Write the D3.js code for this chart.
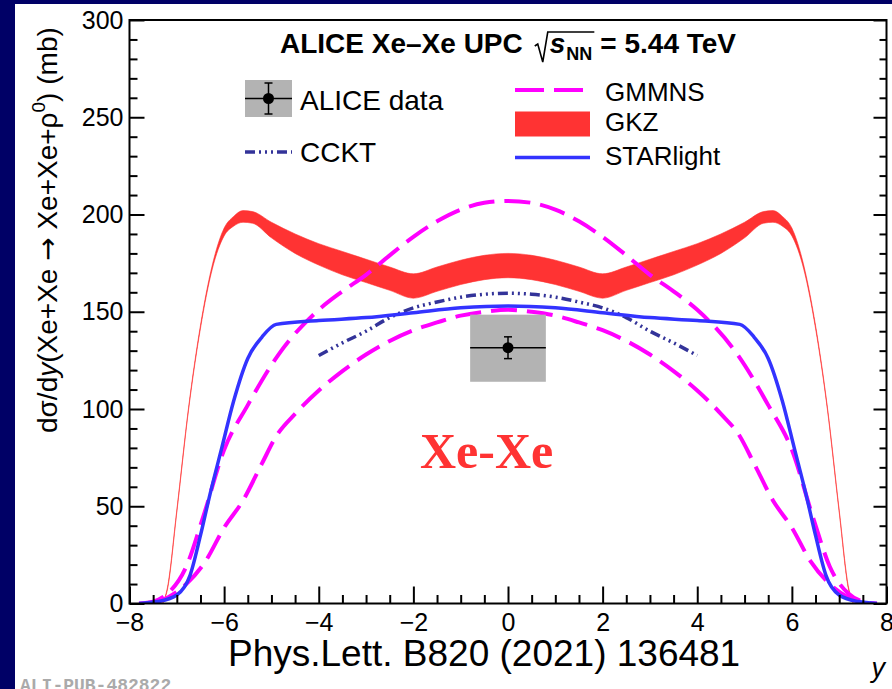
<!DOCTYPE html>
<html><head><meta charset="utf-8">
<script src="https://cdn.jsdelivr.net/npm/d3@7"></script>
<style>body{margin:0;background:#000066;} svg{display:block;}</style>
</head><body><svg id="c" width="892" height="689"></svg>
<script>
// ---------------- data ----------------
const gkzRap   = [-7.3,-7.2,-7.0,-6.75,-6.5,-6.25,-6.0,-5.8,-5.6,-5.4,-5.0,-4.5,-4.0,-3.5,-3.0,-2.5,-2.0,-1.5,-1.0,-0.5,0,0.5,1.0,1.5,2.0,2.5,3.0,3.5,4.0,4.5,5.0,5.4,5.6,5.8,6.0,6.25,6.5,6.75,7.0,7.2,7.3];
const gkzHigh  = [0,8,48,101,143,174,193,199,202,201.5,196,190,185,181,177,173,169.5,173,176.5,179,180,179,176.5,173,169.5,173,177,181,185,190,196,201.5,202,199,193,174,143,101,48,8,0];
const gkzLow   = [0,7,47,100,141.5,172,189,194,196,195.5,188,180,174,169,165,161,157,160.5,164,166.5,167.5,166.5,164,160.5,157,161,165,169,174,180,188,195.5,196,194,189,172,141.5,100,47,7,0];

const gmUpRap  = [-7.8,-7.5,-7.2,-6.8,-6.45,-6.0,-5.5,-4.85,-4.0,-3.5,-3.0,-2.5,-2.0,-1.5,-1.0,-0.5,0,0.5,1.0,1.5,2.0,2.5,3.0,3.5,4.0,4.85,5.5,6.0,6.45,6.8,7.2,7.5,7.8];
const gmUpVal  = [0,1,5,19,44,79,102,128,151,160.5,169,179,188.5,196.5,202.5,206,207,206,202.5,196.5,188.5,179,169,160.5,151,128,102,79,44,19,5,1,0];
const gmLoRap  = [-7.5,-7.2,-6.8,-6.4,-6.0,-5.6,-5.2,-4.9,-4.5,-4.0,-3.5,-3.0,-2.5,-2.0,-1.5,-1.0,-0.5,0,0.5,1.0,1.5,2.0,2.5,3.0,3.5,4.0,4.5,4.9,5.2,5.6,6.0,6.4,6.8,7.2,7.5];
const gmLoVal  = [0,3,10,21.5,39,53,72,86,97.5,109.5,119.5,128,135,140.5,144.5,148,150,151,150,148,144.5,140.5,135,128,119.5,109.5,97.5,86,72,53,39,21.5,10,3,0];

const starRap  = [-7.8,-7.4,-7.0,-6.72,-6.5,-6.3,-6.05,-5.8,-5.5,-5.2,-4.9,-4.0,-3.0,-2.0,-1.0,0,1.0,2.0,3.0,4.0,4.9,5.2,5.5,5.8,6.05,6.3,6.5,6.72,7.0,7.4,7.8];
const starVal  = [0,1,4.4,14.5,35,56,80,104,126,137,143.5,145.5,147,149.5,152,153,152,149.5,147,145.5,143.5,137,126,104,80,56,35,14.5,4.4,1,0];

const ccktRap  = [-4,-3.5,-3,-2.5,-2,-1.5,-1,-0.5,0,0.5,1,1.5,2,2.5,3,3.5,4];
const ccktVal  = [127.5,134,140,147,152,155,157.5,159,159.5,159,157.5,155,152,147,140,134,127.5];

const dataRap = [0];
const dataVal = [131.5];
const dataStat = [5.6];
const dataSystLo = [114];
const dataSystHi = [148.5];
const dataRapErr = [0.8];

const xMajorTicks = [-8,-6,-4,-2,0,2,4,6,8];
const yMajorTicks = [0,50,100,150,200,250,300];

// ---------------- drawing ----------------
const F = "'Liberation Sans', Arial, Helvetica, sans-serif";
const svg = d3.select("#c");
svg.append("rect").attr("width",892).attr("height",689).attr("fill","#000066");
svg.append("rect").attr("x",15).attr("y",4).attr("width",877).attr("height",685).attr("fill","#ffffff");

const x = d3.scaleLinear().domain([-8,8]).range([129.5,886.5]);
const y = d3.scaleLinear().domain([0,300]).range([603.5,20]);

svg.append("clipPath").attr("id","pc").append("rect")
  .attr("x",x(-8)).attr("y",y(300)).attr("width",x(8)-x(-8)).attr("height",y(0)-y(300));
const plot = svg.append("g").attr("clip-path","url(#pc)");

const zip = (a,b)=>a.map((v,i)=>[v,b[i]]);
const line = d3.line().x(d=>x(d[0])).y(d=>y(d[1])).curve(d3.curveMonotoneX);

// GKZ band
plot.append("path")
  .datum(gkzRap.map((r,i)=>({r, lo:gkzLow[i], hi:gkzHigh[i]})))
  .attr("d", d3.area().x(d=>x(d.r)).y0(d=>y(d.lo)).y1(d=>y(d.hi)).curve(d3.curveMonotoneX))
  .attr("fill","#ff3333").attr("stroke","#ff3333").attr("stroke-width",0.6);

// GMMNS
[[gmUpRap,gmUpVal],[gmLoRap,gmLoVal]].forEach(([r,v])=>{
  plot.append("path").datum(zip(r,v)).attr("d",line)
    .attr("fill","none").attr("stroke","#ff00ff").attr("stroke-width",4)
    .attr("stroke-dasharray","26,10");
});
// CCKT
plot.append("path").datum(zip(ccktRap,ccktVal)).attr("d",line)
  .attr("fill","none").attr("stroke","#333399").attr("stroke-width",3.5)
  .attr("stroke-dasharray","10,4,2,4,2,4,2,4");
// STARlight
plot.append("path").datum(zip(starRap,starVal)).attr("d",line)
  .attr("fill","none").attr("stroke","#3333ff").attr("stroke-width",3.5);

// ALICE data
dataRap.forEach((r,i)=>{
  plot.append("rect").attr("x",x(r-dataRapErr[i])).attr("y",y(dataSystHi[i]))
    .attr("width",x(r+dataRapErr[i])-x(r-dataRapErr[i])).attr("height",y(dataSystLo[i])-y(dataSystHi[i]))
    .attr("fill","#b3b3b3");
  plot.append("line").attr("x1",x(r-dataRapErr[i])).attr("x2",x(r+dataRapErr[i]))
    .attr("y1",y(dataVal[i])).attr("y2",y(dataVal[i])).attr("stroke","#000").attr("stroke-width",1.5);
  plot.append("line").attr("x1",x(r)).attr("x2",x(r))
    .attr("y1",y(dataVal[i]+dataStat[i])).attr("y2",y(dataVal[i]-dataStat[i])).attr("stroke","#000").attr("stroke-width",1.5);
  [dataVal[i]+dataStat[i], dataVal[i]-dataStat[i]].forEach(v=>{
    plot.append("line").attr("x1",x(r)-4).attr("x2",x(r)+4).attr("y1",y(v)).attr("y2",y(v))
      .attr("stroke","#000").attr("stroke-width",1.5);
  });
  plot.append("circle").attr("cx",x(r)).attr("cy",y(dataVal[i])).attr("r",5.5).attr("fill","#000");
});

// Axes
function styleAxis(g){
  g.select(".domain").remove();
  g.selectAll("line").attr("stroke","#000").attr("stroke-width",2);
  g.selectAll("text").attr("font-family",F).attr("font-size",25).attr("fill","#000");
}
const xMinor = d3.range(-8,8.001,0.5).filter(v=>!xMajorTicks.includes(v));
const yMinor = d3.range(0,300.001,10).filter(v=>!yMajorTicks.includes(v));
svg.append("g").attr("transform",`translate(0,${y(0)})`)
  .call(d3.axisBottom(x).tickValues(xMinor).tickSizeInner(-8.5).tickSizeOuter(0).tickFormat("")).call(styleAxis);
svg.append("g").attr("transform",`translate(0,${y(0)})`)
  .call(d3.axisBottom(x).tickValues(xMajorTicks).tickSizeInner(-17).tickSizeOuter(0).tickPadding(10).tickFormat(d3.format("d"))).call(styleAxis);
svg.append("g").attr("transform",`translate(${x(-8)},0)`)
  .call(d3.axisLeft(y).tickValues(yMinor).tickSizeInner(-8).tickSizeOuter(0).tickFormat("")).call(styleAxis);
svg.append("g").attr("transform",`translate(${x(-8)},0)`)
  .call(d3.axisLeft(y).tickValues(yMajorTicks).tickSizeInner(-15).tickSizeOuter(0).tickPadding(6).tickFormat(d3.format("d"))).call(styleAxis);
svg.append("g").attr("transform",`translate(${x(8)},0)`)
  .call(d3.axisRight(y).tickValues(yMinor).tickSizeInner(-7).tickSizeOuter(0).tickFormat("")).call(styleAxis);
svg.append("g").attr("transform",`translate(${x(8)},0)`)
  .call(d3.axisRight(y).tickValues(yMajorTicks).tickSizeInner(-13).tickSizeOuter(0).tickFormat("")).call(styleAxis);

svg.append("rect").attr("x",x(-8)).attr("y",y(300)).attr("width",x(8)-x(-8)).attr("height",y(0)-y(300))
  .attr("fill","none").attr("stroke","#000").attr("stroke-width",2);

// Axis titles
const yt = svg.append("text").attr("transform","translate(57,433) rotate(-90)")
  .attr("font-family",F).attr("font-size",28).attr("fill","#000");
yt.append("tspan").text("dσ/d");
yt.append("tspan").attr("font-style","italic").text("y");
yt.append("tspan").text("(Xe+Xe ");
yt.append("tspan").attr("font-family","'DejaVu Sans', sans-serif").attr("font-size",28).text("\u2192");
yt.append("tspan").text(" Xe+Xe+ρ");
yt.append("tspan").attr("font-size",19).attr("dy",-12).text("0");
yt.append("tspan").attr("dy",12).text(") (mb)");

svg.append("text").attr("x",885).attr("y",677).attr("text-anchor","end")
  .attr("font-family",F).attr("font-size",27).attr("font-style","italic").text("y");

svg.append("text").attr("x",228).attr("y",666).attr("font-family",F).attr("font-size",37)
  .attr("fill","#000").text("Phys.Lett. B820 (2021) 136481");

svg.append("text").attr("x",20).attr("y",691).attr("font-family","'Liberation Mono','DejaVu Sans Mono',monospace")
  .attr("font-weight","bold").attr("font-size",18).attr("fill","#aaaaaa").text("ALI-PUB-482822");

// Title
const base = 53;
let cx = 280;
const t1 = svg.append("text").attr("x",cx).attr("y",base).attr("font-family",F).attr("font-weight","bold")
  .attr("font-size",28).text("ALICE Xe\u2013Xe UPC");
cx += t1.node().getComputedTextLength() + 12;
const sq0 = cx;
const ts = svg.append("text").attr("x",sq0+15).attr("y",base).attr("font-family",F).attr("font-weight","bold")
  .attr("font-style","italic").attr("font-size",28).text("s");
const sEnd = sq0+15+ts.node().getComputedTextLength();
const tn = svg.append("text").attr("x",sEnd+1).attr("y",base+7).attr("font-family",F).attr("font-weight","bold")
  .attr("font-size",18).text("NN");
const nEnd = sEnd+1+tn.node().getComputedTextLength();
svg.append("path").attr("d",`M${sq0},${base-7} L${sq0+3},${base-9} L${sq0+8},${base+9} L${sq0+13},${base-21} L${nEnd+2},${base-21}`)
  .attr("fill","none").attr("stroke","#000").attr("stroke-width",1.6);
svg.append("text").attr("x",nEnd+8).attr("y",base).attr("font-family",F).attr("font-weight","bold")
  .attr("font-size",28).text("= 5.44 TeV");

// Legend
const lg = svg.append("g");
lg.append("rect").attr("x",245).attr("y",80).attr("width",47).attr("height",37).attr("fill","#b3b3b3");
lg.append("line").attr("x1",245).attr("x2",292).attr("y1",98.5).attr("y2",98.5).attr("stroke","#000").attr("stroke-width",1.5);
lg.append("line").attr("x1",268.5).attr("x2",268.5).attr("y1",83).attr("y2",114).attr("stroke","#000").attr("stroke-width",1.5);
[83,114].forEach(v=>lg.append("line").attr("x1",264.5).attr("x2",272.5).attr("y1",v).attr("y2",v).attr("stroke","#000").attr("stroke-width",1.5));
lg.append("circle").attr("cx",268.5).attr("cy",98.5).attr("r",5.5).attr("fill","#000");
lg.append("text").attr("x",300).attr("y",110).attr("font-family",F).attr("font-size",28).text("ALICE data");

lg.append("line").attr("x1",245).attr("x2",292).attr("y1",152).attr("y2",152).attr("stroke","#333399")
  .attr("stroke-width",3.5).attr("stroke-dasharray","10,4,2,4,2,4,2,4");
lg.append("text").attr("x",300).attr("y",162).attr("font-family",F).attr("font-size",28).text("CCKT");

lg.append("line").attr("x1",515).attr("x2",590).attr("y1",90).attr("y2",90).attr("stroke","#ff00ff")
  .attr("stroke-width",4).attr("stroke-dasharray","29,10");
lg.append("text").attr("x",605).attr("y",101).attr("font-family",F).attr("font-size",26).text("GMMNS");
lg.append("rect").attr("x",515).attr("y",111.5).attr("width",75).attr("height",25).attr("fill","#ff3333");
lg.append("text").attr("x",605).attr("y",131).attr("font-family",F).attr("font-size",26).text("GKZ");
lg.append("line").attr("x1",515).attr("x2",590).attr("y1",157.5).attr("y2",157.5).attr("stroke","#3333ff").attr("stroke-width",3.5);
lg.append("text").attr("x",605).attr("y",165).attr("font-family",F).attr("font-size",26).text("STARlight");

// Xe-Xe label
svg.append("text").attr("x",420).attr("y",468).attr("font-family","'Liberation Serif','Times New Roman',serif")
  .attr("font-weight","bold").attr("font-size",50).attr("fill","#ff3333").text("Xe-Xe");
</script></body></html>
